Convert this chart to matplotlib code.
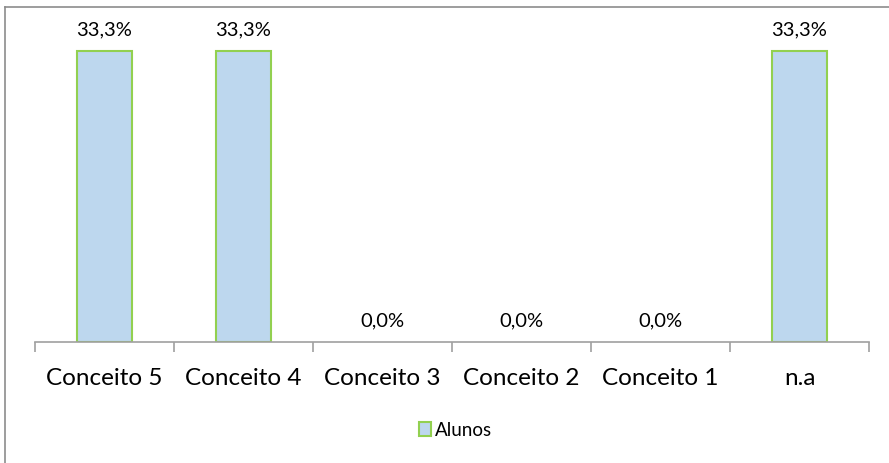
import matplotlib.pyplot as plt
from matplotlib.lines import Line2D
from matplotlib.patches import Patch

categories = ["Conceito 5", "Conceito 4", "Conceito 3", "Conceito 2", "Conceito 1", "n.a"]
alunos = [0.333, 0.333, 0.0, 0.0, 0.0, 0.333]
labels = ["33,3%", "33,3%", "0,0%", "0,0%", "0,0%", "33,3%"]

plt.rcParams['font.family'] = ['Lato', 'DejaVu Sans']

W, H = 889, 464
fig = plt.figure(figsize=(W / 100, H / 100), dpi=100)
ax = fig.add_axes([35 / W, (H - 343) / H, (869 - 35) / W, (343 - 37) / H])

x = list(range(len(categories)))
bars = ax.bar(x, alunos, width=0.4, color="#BDD7EE", edgecolor="#92D050", linewidth=1.5, zorder=2)
for b, v in zip(bars, alunos):
    if v == 0:
        b.set_visible(False)

for xi, v, lab in zip(x, alunos, labels):
    ax.annotate(lab, (xi, v), xytext=(0, 16), textcoords="offset points",
                ha="center", va="center", fontsize=14.5, color="black")

ax.set_xlim(-0.5, len(categories) - 0.5)
ax.set_ylim(0, 0.35)
ax.set_yticks([])
for s in ["top", "right", "left"]:
    ax.spines[s].set_visible(False)
ax.spines["bottom"].set_color("#A0A0A0")
ax.spines["bottom"].set_linewidth(1.2)

ax.set_xticks(x)
ax.set_xticklabels(categories, fontsize=17.5)
ax.tick_params(axis="x", length=0, pad=18)
# category boundary ticks
ax.set_xticks([i - 0.5 for i in range(len(categories) + 1)], minor=True)
ax.tick_params(axis="x", which="minor", length=7, color="#A0A0A0", width=1.2)

leg = fig.legend(handles=[Patch(facecolor="#BDD7EE", edgecolor="#92D050", linewidth=1.5, label="Alunos")],
                 loc="center", bbox_to_anchor=(456 / W, 1 - 431 / H), frameon=False,
                 fontsize=13.5, handlelength=0.6, handleheight=0.8, handletextpad=0.25)

# outer chart border (left and top visible)
fig.add_artist(Line2D([5 / W, 5 / W], [0, 1 - 8 / H], color="#8C8C8C", linewidth=1.2))
fig.add_artist(Line2D([5 / W, 1], [1 - 8 / H, 1 - 8 / H], color="#8C8C8C", linewidth=1.2))

fig.savefig("out.png", dpi=100)
